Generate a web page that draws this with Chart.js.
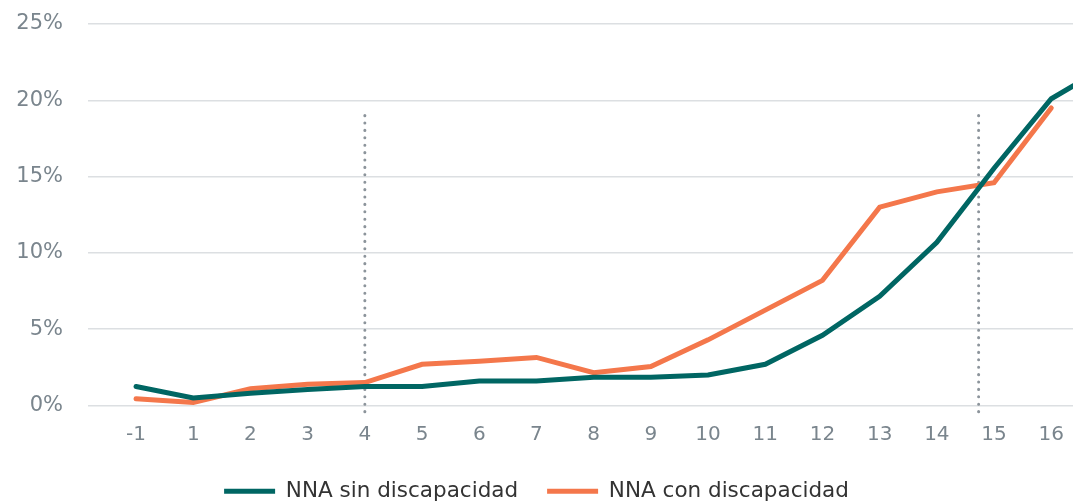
<!DOCTYPE html>
<html lang="es">
<head>
    <meta charset="UTF-8">
    <title>NNA con y sin discapacidad</title>
    <script src="https://cdn.jsdelivr.net/npm/chart.js@4.4.1/dist/chart.umd.min.js"></script>
    <style>
        html, body { margin: 0; padding: 0; background: #fff; }
        #wrap { width: 1073px; height: 501px; }
    </style>
</head>
<body>
<div id="wrap"><canvas id="myChart"></canvas></div>

<script>
    // edades (eje x)
    const edades = ['-1', '1', '2', '3', '4', '5', '6', '7', '8', '9', '10', '11', '12', '13', '14', '15', '16'];
    // % por edad (la serie verde sigue un punto más, fuera del área)
    const sinDiscapacidad = [1.25, 0.5, 0.8, 1.05, 1.25, 1.25, 1.6, 1.6, 1.85, 1.85, 2.0, 2.7, 4.6, 7.15, 10.7, 15.55, 20.1, 22.3];
    const conDiscapacidad = [0.45, 0.2, 1.1, 1.4, 1.5, 2.7, 2.9, 3.15, 2.15, 2.55, 4.3, 6.25, 8.2, 13.0, 14.0, 14.6, 19.5];
    const yTicks = [0, 5, 10, 15, 20, 25];
    // líneas punteadas verticales (posición en el eje de edades)
    const cortes = [4, 14.73];

    const toPoints = arr => arr.map((v, i) => ({ x: i, y: v }));

    const cortesPlugin = {
        id: 'cortes',
        beforeDatasetsDraw(chart) {
            const { ctx, scales: { x, y } } = chart;
            ctx.save();
            ctx.strokeStyle = '#8c949b';
            ctx.lineWidth = 3;
            ctx.lineCap = 'round';
            ctx.setLineDash([0.1, 7.3]);
            cortes.forEach(c => {
                const px = x.getPixelForValue(c);
                ctx.beginPath();
                ctx.moveTo(px, y.getPixelForValue(19.0));
                ctx.lineTo(px, y.getPixelForValue(0) + 8);
                ctx.stroke();
            });
            ctx.restore();
        }
    };

    const tickFont = { family: 'DejaVu Sans', weight: 'normal' };

    const ctx = document.getElementById('myChart').getContext('2d');
    const myChart = new Chart(ctx, {
        type: 'line',
        data: {
            datasets: [{
                label: 'NNA sin discapacidad',
                data: toPoints(sinDiscapacidad),
                borderColor: '#006663',
                backgroundColor: '#006663',
                borderWidth: 5,
                borderCapStyle: 'round',
                pointRadius: 0,
                tension: 0
            }, {
                label: 'NNA con discapacidad',
                data: toPoints(conDiscapacidad),
                borderColor: '#f4774b',
                backgroundColor: '#f4774b',
                borderWidth: 5,
                borderCapStyle: 'round',
                pointRadius: 0,
                tension: 0
            }]
        },
        options: {
            responsive: true,
            maintainAspectRatio: false,
            animation: false,
            layout: { padding: { top: 24, right: 0, left: 0, bottom: -11 } },
            plugins: {
                tooltip: { enabled: false },
                legend: {
                    position: 'bottom',
                    labels: {
                        usePointStyle: true,
                        pointStyle: 'line',
                        pointStyleWidth: 51,
                        boxHeight: 5,
                        padding: 29,
                        color: '#333',
                        font: { family: 'DejaVu Sans', size: 21.5 }
                    }
                }
            },
            scales: {
                x: {
                    type: 'linear',
                    min: -0.84,
                    max: 16.38,
                    grid: { display: false },
                    border: { display: false },
                    afterBuildTicks: s => { s.ticks = edades.map((e, i) => ({ value: i })); },
                    afterFit: s => { s.height = 46; },
                    ticks: {
                        padding: 9,
                        color: '#7a858d',
                        font: { ...tickFont, size: 20 },
                        callback: v => edades[v]
                    }
                },
                y: {
                    min: 0,
                    max: 25,
                    afterBuildTicks: s => { s.ticks = yTicks.map(v => ({ value: v })); },
                    afterFit: s => { s.width = 88; s.paddingTop = 0; s.paddingBottom = 0; },
                    grid: { color: '#dcdfe2', lineWidth: 1.5, drawTicks: false },
                    border: { display: false },
                    ticks: {
                        padding: 25,
                        color: '#7a858d',
                        font: { ...tickFont, size: 21 },
                        callback: v => v + '%'
                    }
                }
            }
        },
        plugins: [cortesPlugin]
    });
</script>
</body>
</html>
